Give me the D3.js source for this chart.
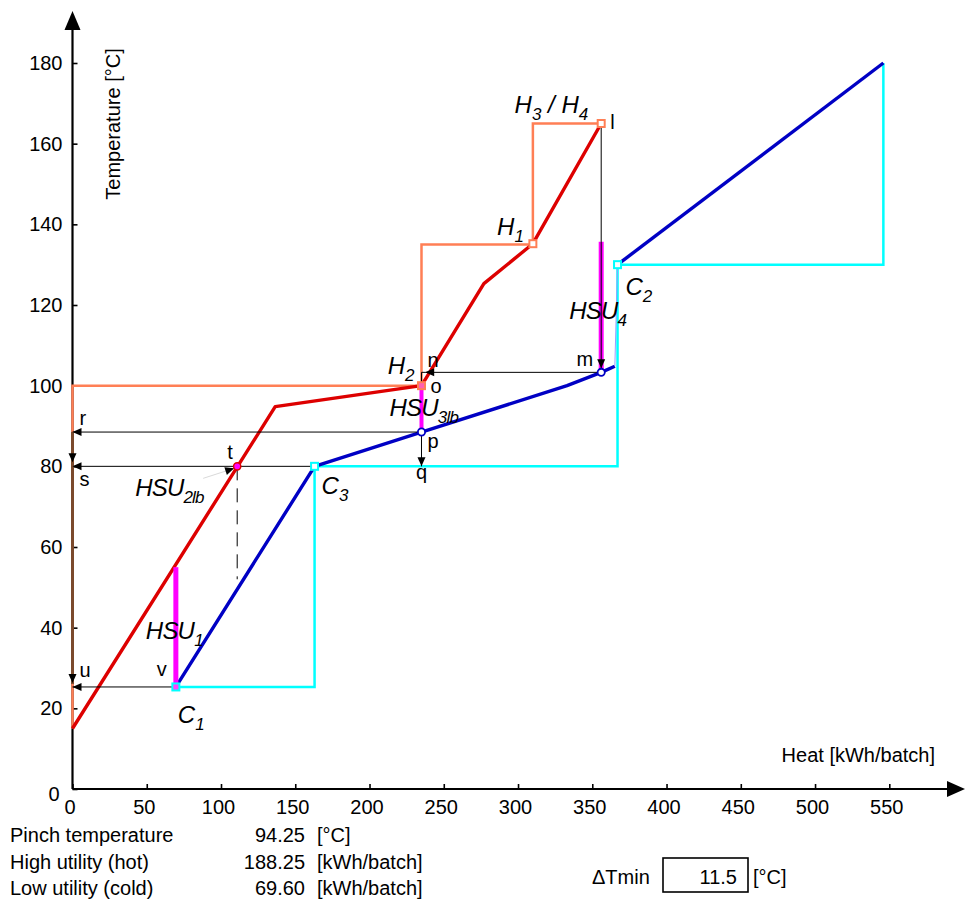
<!DOCTYPE html>
<html>
<head>
<meta charset="utf-8">
<script src="https://cdn.jsdelivr.net/npm/d3@7"></script>
<style>
  html, body { margin: 0; padding: 0; background: #fff; }
  svg text { font-family: "Liberation Sans", Arial, Helvetica, sans-serif; }
</style>
</head>
<body>
<svg id="chart" width="966" height="900"></svg>
<script>
// ---------------- data ----------------
const xTicks = [0, 50, 100, 150, 200, 250, 300, 350, 400, 450, 500, 550];
const yTicks = [0, 20, 40, 60, 80, 100, 120, 140, 160, 180];

// hot composite curve (kWh/batch, °C)
const hotQ = [0, 136.5, 235, 277, 310, 356];
const hotT = [15, 94.8, 100, 125.3, 135.2, 165];
// cold composite curve, two pieces
const coldQ = [69.6, 163, 235, 333, 356, 365.2];
const coldT = [25.3, 80, 88.5, 100, 103.3, 104.8];
const coldQ2 = [367, 546];
const coldT2 = [130, 180];
// hot stream step outline
const hotStepQ = [0, 0, 235, 235, 310, 310, 356];
const hotStepT = [15, 100, 100, 135, 135, 165, 165];
// cold stream step outline
const coldStepQ = [69.6, 163, 163, 367, 367, 546, 546];
const coldStepT = [25.3, 25.3, 80, 80, 130, 130, 180];
// heat supply utility bars
const hsuQ = [69.6, 235, 356];
const hsuTlow = [25.3, 88.5, 103.3];
const hsuThigh = [55, 100, 135.7];
const hsuWidth = [5, 4, 5];

// annotation points
const ptNames = ["l", "m", "n", "o", "p", "q", "r", "s", "t", "u", "v"];
const ptQ = [356, 356, 237.5, 235, 235, 235, 0, 0, 110.9, 0, 69.6];
const ptT = [165, 103.3, 103.3, 100, 88.5, 80, 88.5, 80, 80, 25.3, 25.3];

// stream markers
const hotMarkQ = [235, 310, 356];
const hotMarkT = [100, 135.2, 165];
const coldMarkQ = [69.6, 163, 367];
const coldMarkT = [25.3, 80, 130];

// summary
const summaryLabels = ["Pinch temperature", "High utility (hot)", "Low utility (cold)"];
const summaryValues = ["94.25", "188.25", "69.60"];
const summaryUnits = ["[°C]", "[kWh/batch]", "[kWh/batch]"];
const dTminValue = "11.5";

// ---------------- chart ----------------
const svg = d3.select("#chart");
const x = d3.scaleLinear().domain([0, 550]).range([72.5, 889.3]);
const y = d3.scaleLinear().domain([0, 180]).range([789, 63]);

const C = {
  red: "#dd0000", blue: "#0000c4", orange: "#ff7f55", cyan: "#00ffff",
  magenta: "#ff00ff", brown: "#7b4a2d", black: "#000"
};

const P = name => { const i = ptNames.indexOf(name); return [x(ptQ[i]), y(ptT[i])]; };
const zip = (a, b) => a.map((d, i) => [d, b[i]]);
const line = d3.line().x(d => x(d[0])).y(d => y(d[1]));

// axes
const yAxis = d3.axisLeft(y).tickValues(yTicks).tickSize(-5).tickPadding(10).tickFormat(d3.format("d"));
const gy = svg.append("g").attr("transform", `translate(${x(0)},0)`).call(yAxis);
const xAxis = d3.axisBottom(x).tickValues(xTicks).tickSize(-5).tickPadding(11).tickFormat(d3.format("d"));
const gx = svg.append("g").attr("transform", `translate(0,${y(0)})`).call(xAxis);
[gx, gy].forEach(g => {
  g.select(".domain").remove();
  g.selectAll(".tick line").attr("stroke", "#000").attr("stroke-width", 1.6);
  g.selectAll(".tick text").attr("font-size", 20).attr("fill", "#000")
    .style("font-family", '"Liberation Sans", Arial, sans-serif');
});
gx.selectAll(".tick text").attr("dx", -3);
gy.selectAll(".tick").filter(d => d === 0).select("text").attr("dy", "0.55em").attr("dx", -3);

// axis lines with arrows
svg.append("line").attr("x1", x(0)).attr("y1", y(0)).attr("x2", x(0)).attr("y2", 26)
  .attr("stroke", "#000").attr("stroke-width", 2.2);
svg.append("path").attr("d", `M${x(0)},11 L${x(0) - 8},30 L${x(0) + 8},30 Z`).attr("fill", "#000");
svg.append("line").attr("x1", x(0)).attr("y1", y(0)).attr("x2", 950).attr("y2", y(0))
  .attr("stroke", "#000").attr("stroke-width", 2.2);
svg.append("path").attr("d", `M965,${y(0)} L947,${y(0) - 8} L947,${y(0) + 8} Z`).attr("fill", "#000");

svg.append("text").attr("transform", `translate(120,124) rotate(-90)`)
  .attr("text-anchor", "middle").attr("font-size", 20).text("Temperature [°C]");
svg.append("text").attr("x", 935).attr("y", 762).attr("text-anchor", "end")
  .attr("font-size", 20).text("Heat [kWh/batch]");

// step outlines
svg.append("path").attr("d", line(zip(coldStepQ, coldStepT))).attr("fill", "none")
  .attr("stroke", C.cyan).attr("stroke-width", 2.5);
svg.append("path").attr("d", line(zip(hotStepQ, hotStepT))).attr("fill", "none")
  .attr("stroke", C.orange).attr("stroke-width", 2.5);

// composite curves
svg.append("path").attr("d", line(zip(hotQ, hotT))).attr("fill", "none")
  .attr("stroke", C.red).attr("stroke-width", 3.4).attr("stroke-linejoin", "round");
svg.append("path").attr("d", line(zip(coldQ, coldT))).attr("fill", "none")
  .attr("stroke", C.blue).attr("stroke-width", 3.4).attr("stroke-linejoin", "round");
svg.append("path").attr("d", line(zip(coldQ2, coldT2))).attr("fill", "none")
  .attr("stroke", C.blue).attr("stroke-width", 3.4);
svg.append("path").attr("d", line([[coldQ[coldQ.length - 1], coldT[coldT.length - 1]], [coldQ2[0], coldT2[0]]]))
  .attr("fill", "none").attr("stroke", "#9a9aff").attr("stroke-width", 1);

// HSU bars
hsuQ.forEach((q, i) => {
  svg.append("line").attr("x1", x(q)).attr("x2", x(q)).attr("y1", y(hsuTlow[i])).attr("y2", y(hsuThigh[i]))
    .attr("stroke", C.magenta).attr("stroke-width", hsuWidth[i]);
});

// arrows
const arrowLines = svg.append("g");
const brownG = svg.append("g");
const heads = svg.append("g");
function arrow(a, b, opt = {}) {
  const [x1, y1] = a, [x2, y2] = b;
  arrowLines.append("line").attr("x1", x1).attr("y1", y1).attr("x2", x2).attr("y2", y2)
    .attr("stroke", opt.color || "#000").attr("stroke-width", opt.w || 1);
  if (opt.head === false) return;
  const L = 9, W = 4;
  const dx = x2 - x1, dy = y2 - y1, len = Math.hypot(dx, dy);
  const ux = dx / len, uy = dy / len;
  const bx = x2 - ux * L, by = y2 - uy * L;
  heads.append("path")
    .attr("d", `M${x2},${y2} L${bx - uy * W},${by + ux * W} L${bx + uy * W},${by - ux * W} Z`)
    .attr("fill", "#000");
}
const off = (p, dx, dy) => [p[0] + dx, p[1] + dy];

arrow(P("l"), off(P("m"), 0, -4));
arrow(P("m"), P("n"));
arrow(P("n"), [P("o")[0], P("n")[1]], { head: false });
arrow([P("o")[0], P("n")[1]], P("o"), { head: false });
arrow(P("p"), P("q"));
arrow(P("p"), P("r"));
arrow(P("r"), off(P("s"), 0, -4));
arrow([x(coldMarkQ[1]), y(coldMarkT[1])], P("s"));
arrow(P("s"), off(P("u"), 0, -4));
arrow(P("v"), P("u"));
// leader for HSU2lb
arrow(off(P("t"), -34, 12), off(P("t"), -3, 2), { color: "#c8c8c8", w: 0.7 });

// brown vertical
brownG.append("line").attr("x1", P("r")[0]).attr("x2", P("u")[0])
  .attr("y1", P("r")[1]).attr("y2", P("u")[1] - 3)
  .attr("stroke", C.brown).attr("stroke-width", 3);

// dashed drop line from t
svg.append("line").attr("x1", P("t")[0]).attr("x2", P("t")[0])
  .attr("y1", P("t")[1]).attr("y2", y(52))
  .attr("stroke", "#000").attr("stroke-width", 1).attr("stroke-dasharray", "14,8");

// markers
const sq = 7;
hotMarkQ.forEach((q, i) => {
  svg.append("rect").attr("x", x(q) - sq / 2).attr("y", y(hotMarkT[i]) - sq / 2)
    .attr("width", sq).attr("height", sq).attr("fill", i === 0 ? "#ff60b0" : "#fff")
    .attr("stroke", C.orange).attr("stroke-width", 2);
});
coldMarkQ.forEach((q, i) => {
  svg.append("rect").attr("x", x(q) - sq / 2).attr("y", y(coldMarkT[i]) - sq / 2)
    .attr("width", sq).attr("height", sq).attr("fill", i === 0 ? "#ff40ff" : "#fff")
    .attr("stroke", C.cyan).attr("stroke-width", 2);
});
["p", "m"].forEach(n => {
  svg.append("circle").attr("cx", P(n)[0]).attr("cy", P(n)[1]).attr("r", 3.6)
    .attr("fill", "#fff").attr("stroke", C.blue).attr("stroke-width", 1.8);
});
svg.append("circle").attr("cx", P("t")[0]).attr("cy", P("t")[1]).attr("r", 3.6)
  .attr("fill", C.magenta).attr("stroke", C.red).attr("stroke-width", 1.5);

// labels
function label(px, py, parts, opt = {}) {
  const size = opt.size || 24, sub = opt.sub || 17;
  const t = svg.append("text").attr("x", px).attr("y", py)
    .attr("font-size", size).attr("text-anchor", opt.anchor || "start")
    .attr("letter-spacing", opt.ls || 0)
    .attr("font-style", "italic");
  let shifted = false;
  parts.forEach(([s, isSub]) => {
    const ts = t.append("tspan").text(s);
    if (isSub && !shifted) { ts.attr("font-size", sub).attr("dy", 7); shifted = true; }
    else if (!isSub && shifted) { ts.attr("dy", -7); shifted = false; }
  });
  return t;
}
const hm = (i) => [x(hotMarkQ[i]), y(hotMarkT[i])];
const cm = (i) => [x(coldMarkQ[i]), y(coldMarkT[i])];

label(hm(2)[0] - 13, hm(2)[1] - 11, [["H"], ["3", 1], [" / H"], ["4", 1]], { anchor: "end" });
label(hm(1)[0] - 9, hm(1)[1] - 9, [["H"], ["1", 1]], { anchor: "end" });
label(hm(0)[0] - 7, hm(0)[1] - 12, [["H"], ["2", 1]], { anchor: "end" });
label(cm(2)[0] + 8, cm(2)[1] + 30, [["C"], ["2", 1]]);
label(cm(1)[0] + 7, cm(1)[1] + 28, [["C"], ["3", 1]]);
label(cm(0)[0] + 2, cm(0)[1] + 36, [["C"], ["1", 1]]);

label(x(hsuQ[2]) - 32, y(116.5), [["HSU"], ["4", 1]], { ls: -0.8 });
label(x(hsuQ[1]) - 32, P("o")[1] + 30, [["HSU"], ["3lb", 1]], { ls: -0.8 });
label(P("t")[0] - 102, P("t")[1] + 30, [["HSU"], ["2lb", 1]], { ls: -0.8 });
label(x(hsuQ[0]) - 30, y(37.2), [["HSU"], ["1", 1]], { ls: -0.8 });

const small = (p, dx, dy, s, anchor) =>
  svg.append("text").attr("x", p[0] + dx).attr("y", p[1] + dy).attr("font-size", 20)
    .attr("text-anchor", anchor || "start").text(s);
small(P("l"), 9, 5, "l");
small(P("m"), -8, -6, "m", "end");
small(P("o"), 6, -19, "n");
small(P("o"), 9, 7, "o");
small(P("p"), 6, 16, "p");
small(P("q"), 0, 13, "q", "middle");
small(P("r"), 7, -7, "r");
small(P("s"), 7, 20, "s");
small(P("t"), -10, -7, "t");
small(P("u"), 7, -10, "u");
small(P("v"), -9, -11, "v", "end");

// summary block
summaryLabels.forEach((s, i) => {
  const yy = 842 + i * 26.5;
  svg.append("text").attr("x", 10).attr("y", yy).attr("font-size", 20).text(s);
  svg.append("text").attr("x", 305).attr("y", yy).attr("font-size", 20).attr("text-anchor", "end").text(summaryValues[i]);
  svg.append("text").attr("x", 317).attr("y", yy).attr("font-size", 20).text(summaryUnits[i]);
});
svg.append("text").attr("x", 592).attr("y", 884).attr("font-size", 20).text("ΔTmin");
svg.append("rect").attr("x", 663).attr("y", 858).attr("width", 85).attr("height", 34)
  .attr("fill", "#fff").attr("stroke", "#000").attr("stroke-width", 1.6);
svg.append("text").attr("x", 737).attr("y", 884).attr("font-size", 20).attr("text-anchor", "end").text(dTminValue);
svg.append("text").attr("x", 753).attr("y", 884).attr("font-size", 20).text("[°C]");
</script>
</body>
</html>
